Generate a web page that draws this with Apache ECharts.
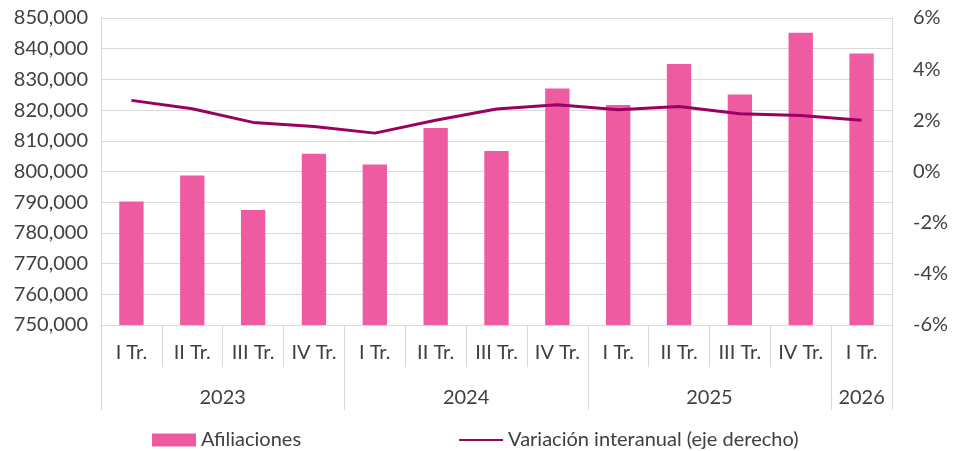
<!DOCTYPE html>
<html>
<head>
<meta charset="utf-8">
<script src="https://cdn.jsdelivr.net/npm/echarts@6/dist/echarts.min.js"></script>
<style>
  html, body { margin: 0; padding: 0; background: #fff; }
  #chart { width: 953px; height: 451px; }
</style>
</head>
<body>
<div id="chart"></div>
<script>
// trimestres y años
const quarters = ['I Tr.', 'II Tr.', 'III Tr.', 'IV Tr.', 'I Tr.', 'II Tr.', 'III Tr.', 'IV Tr.', 'I Tr.', 'II Tr.', 'III Tr.', 'IV Tr.', 'I Tr.'];
const years = ['2023', '2024', '2025', '2026'];
const yearSpans = [4, 4, 4, 1];

// afiliaciones (eje izquierdo) y variación interanual % (eje derecho)
const afiliaciones = [790200, 798700, 787500, 805800, 802300, 814200, 806700, 827000, 821700, 835000, 825100, 845200, 838400];
const variacion = [2.78, 2.45, 1.92, 1.76, 1.50, 2.00, 2.44, 2.61, 2.41, 2.54, 2.26, 2.19, 2.00];

// posiciones de separadores y etiquetas de año
const yearTicks = [0];
const yearLabelPos = [];
let acc = 0;
yearSpans.forEach(function (n) {
  yearLabelPos.push(acc + n / 2);
  acc += n;
  yearTicks.push(acc);
});

const gray = '#d9d9d9';
const txt = '#404040';
const font = 'Lato';
const fs = 20;

const chart = echarts.init(document.getElementById('chart'));
const option = {
  animation: false,
  textStyle: { fontFamily: font },
  grid: { left: 101, right: 61, top: 18, bottom: 126 },
  legend: {
    top: 430,
    left: 152,
    padding: 0,
    itemGap: 157,
    itemWidth: 44,
    itemHeight: 13,
    textStyle: { fontSize: fs, color: txt, fontFamily: font },
    data: [
      { name: 'Afiliaciones', icon: 'rect' },
      { name: 'Variación interanual (eje derecho)', itemStyle: { opacity: 0 } }
    ]
  },
  xAxis: [
    {
      type: 'category',
      data: quarters,
      boundaryGap: true,
      axisLine: { show: true, onZero: false, lineStyle: { color: gray, width: 1 } },
      axisTick: { show: true, length: 42, alignWithLabel: false, lineStyle: { color: gray } },
      axisLabel: { fontSize: fs, color: txt, margin: 18, interval: 0, fontFamily: font },
      splitLine: { show: false }
    },
    {
      type: 'value',
      position: 'bottom',
      min: 0,
      max: quarters.length,
      axisLine: { show: false, onZero: false },
      axisTick: { show: true, length: 85, customValues: yearTicks, lineStyle: { color: gray } },
      axisLabel: {
        show: true,
        customValues: yearLabelPos,
        margin: 63,
        fontSize: fs,
        color: txt,
        fontFamily: font,
        formatter: function (v) {
          const i = yearLabelPos.indexOf(v);
          return i >= 0 ? years[i] : '';
        }
      },
      splitLine: { show: false }
    }
  ],
  yAxis: [
    {
      type: 'value',
      min: 750000,
      max: 850000,
      interval: 10000,
      axisLine: { show: true, onZero: false, lineStyle: { color: gray } },
      axisTick: { show: false },
      axisLabel: {
        fontSize: fs, color: txt, margin: 13, fontFamily: font,
        formatter: function (v) { return v.toLocaleString('en-US'); }
      },
      splitLine: { show: true, lineStyle: { color: gray, width: 1 } }
    },
    {
      type: 'value',
      min: -6,
      max: 6,
      interval: 2,
      position: 'right',
      axisLine: { show: true, onZero: false, lineStyle: { color: gray } },
      axisTick: { show: false },
      axisLabel: { fontSize: fs, color: txt, margin: 21, fontFamily: font, formatter: '{value}%' },
      splitLine: { show: false }
    }
  ],
  series: [
    {
      name: 'Afiliaciones',
      type: 'bar',
      data: afiliaciones,
      barWidth: '40%',
      itemStyle: { color: '#EF5BA1' }
    },
    {
      name: 'Variación interanual (eje derecho)',
      type: 'line',
      yAxisIndex: 1,
      data: variacion,
      symbol: 'none',
      showSymbol: false,
      lineStyle: { color: '#990062', width: 3 },
      itemStyle: { color: '#990062' }
    }
  ]
};
chart.setOption(option);
</script>
</body>
</html>
